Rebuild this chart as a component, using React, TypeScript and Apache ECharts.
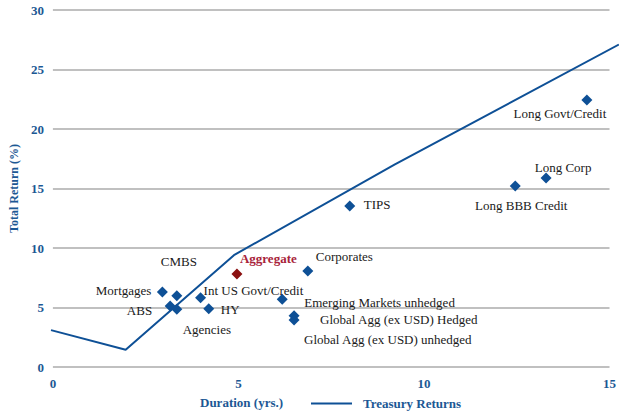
import React, { useEffect, useRef } from "react";
import * as echarts from "echarts";

const names = [
  "Mortgages", "CMBS", "ABS", "Agencies", "Int US Govt/Credit", "HY", "Aggregate",
  "Corporates", "Emerging Markets unhedged", "Global Agg (ex USD) Hedged",
  "Global Agg (ex USD) unhedged", "TIPS", "Long BBB Credit", "Long Corp", "Long Govt/Credit",
];
const durations = [2.95, 3.34, 3.16, 3.34, 3.98, 4.2, 4.96, 6.87, 6.18, 6.5, 6.5, 8.0, 12.46, 13.29, 14.39];
const returns = [6.3, 5.99, 5.13, 4.85, 5.82, 4.9, 7.82, 8.07, 5.7, 4.3, 3.95, 13.53, 15.21, 15.88, 22.44];

const treasuryDurations = [0, 2.0, 4.9, 9.2, 15.21];
const treasuryReturns = [3.1, 1.45, 9.4, 17.0, 27.1];

const xTicks = [0, 5, 10, 15];
const yTicks = [0, 5, 10, 15, 20, 25, 30];

// label placement: [align, dx, dy]
const labelPlacement: Record<string, [string, number, number]> = {
  "Mortgages": ["right", -11, -2],
  "CMBS": ["center", 2, -34],
  "ABS": ["right", -18, 5],
  "Agencies": ["center", 30, 20],
  "Int US Govt/Credit": ["left", 3, -7],
  "HY": ["left", 12, 1],
  "Aggregate": ["left", 3, -15],
  "Corporates": ["left", 8, -14],
  "Emerging Markets unhedged": ["left", 22, 3],
  "Global Agg (ex USD) Hedged": ["left", 26, 4],
  "Global Agg (ex USD) unhedged": ["left", 10, 20],
  "TIPS": ["left", 14, -1],
  "Long BBB Credit": ["center", 6, 19],
  "Long Corp": ["center", 17, -11],
  "Long Govt/Credit": ["center", -27, 14],
};

const BLUE = "#1c5894";
const MARK = "#0e5096";
const FONT = "Liberation Serif";

export default function App() {
  const ref = useRef<HTMLDivElement>(null);
  useEffect(() => {
    if (!ref.current) return;
    const chart = echarts.init(ref.current, undefined, { renderer: "svg" });
    const scatterData = names.map((n, i) => {
      const p = labelPlacement[n];
      const isAgg = n === "Aggregate";
      return {
        name: n,
        value: [durations[i], returns[i]],
        itemStyle: { color: isAgg ? "#8b1010" : MARK, opacity: 1 },
        label: {
          show: true,
          formatter: n,
          position: "inside",
          align: p[0],
          verticalAlign: "middle",
          offset: [p[1], p[2]],
          color: isAgg ? "#a8233a" : "#1a1a1a",
          fontWeight: isAgg ? "bold" : "normal",
          fontSize: 13,
          fontFamily: FONT,
        },
      };
    });
    // second grid spans to the picture's right edge so the treasury line runs past x = 15
    const plotWidth = 619 - 51 - 8;
    const extMax = (15 * (619 - 51)) / plotWidth;
    chart.setOption({
      animation: false,
      grid: [
        { left: 51, right: 8, top: 10, bottom: 44, containLabel: false },
        { left: 51, right: 0, top: 10, bottom: 44, containLabel: false },
      ],
      textStyle: { fontFamily: FONT },
      legend: {
        data: [{ name: "Treasury Returns", icon: "rect" }],
        left: 311,
        top: 397,
        padding: 0,
        itemWidth: 41,
        itemHeight: 2,
        textStyle: { color: BLUE, fontWeight: "bold", fontSize: 13, fontFamily: FONT, padding: [0, 0, 0, 6] },
      },
      graphic: [
        {
          type: "text",
          left: 200,
          top: 396,
          style: { text: "Duration (yrs.)", fill: BLUE, font: `bold 13px ${FONT}` },
        },
      ],
      xAxis: [
        {
          type: "value",
          gridIndex: 0,
          min: 0,
          max: 15,
          interval: 5,
          axisLine: { show: false },
          axisTick: { show: false },
          splitLine: { show: false },
          axisLabel: {
            color: BLUE, fontWeight: "bold", fontSize: 13, fontFamily: FONT, margin: 10,
            formatter: (v: number) => (xTicks.includes(v) ? String(v) : ""),
          },
        },
        {
          type: "value",
          gridIndex: 1,
          min: 0,
          max: extMax,
          show: false,
        },
      ],
      yAxis: [
        {
          type: "value",
          gridIndex: 0,
          min: 0,
          max: 30,
          interval: 5,
          name: "Total Return (%)",
          nameLocation: "middle",
          nameGap: 29,
          nameRotate: 90,
          nameTextStyle: { color: BLUE, fontWeight: "bold", fontSize: 12, fontFamily: FONT },
          axisLine: { show: false },
          axisTick: { show: false },
          splitLine: { show: true, lineStyle: { color: "#c0c0c0", width: 2 } },
          axisLabel: {
            color: BLUE, fontWeight: "bold", fontSize: 13, fontFamily: FONT, margin: 9,
            formatter: (v: number) => (yTicks.includes(v) ? String(v) : ""),
          },
        },
        {
          type: "value",
          gridIndex: 1,
          min: 0,
          max: 30,
          show: false,
        },
      ],
      series: [
        {
          name: "Treasury Returns",
          type: "line",
          xAxisIndex: 1,
          yAxisIndex: 1,
          data: treasuryDurations.map((d, i) => [d, treasuryReturns[i]]),
          symbol: "none",
          showSymbol: false,
          lineStyle: { color: MARK, width: 2 },
          itemStyle: { color: MARK },
          z: 3,
        },
        {
          type: "scatter",
          xAxisIndex: 0,
          yAxisIndex: 0,
          symbol: "diamond",
          symbolSize: 11,
          itemStyle: { opacity: 1 },
          data: scatterData,
          z: 4,
        },
      ],
    });
    return () => chart.dispose();
  }, []);
  return <div ref={ref} style={{ width: 619, height: 411, position: "absolute", left: 0, top: 0 }} />;
}
